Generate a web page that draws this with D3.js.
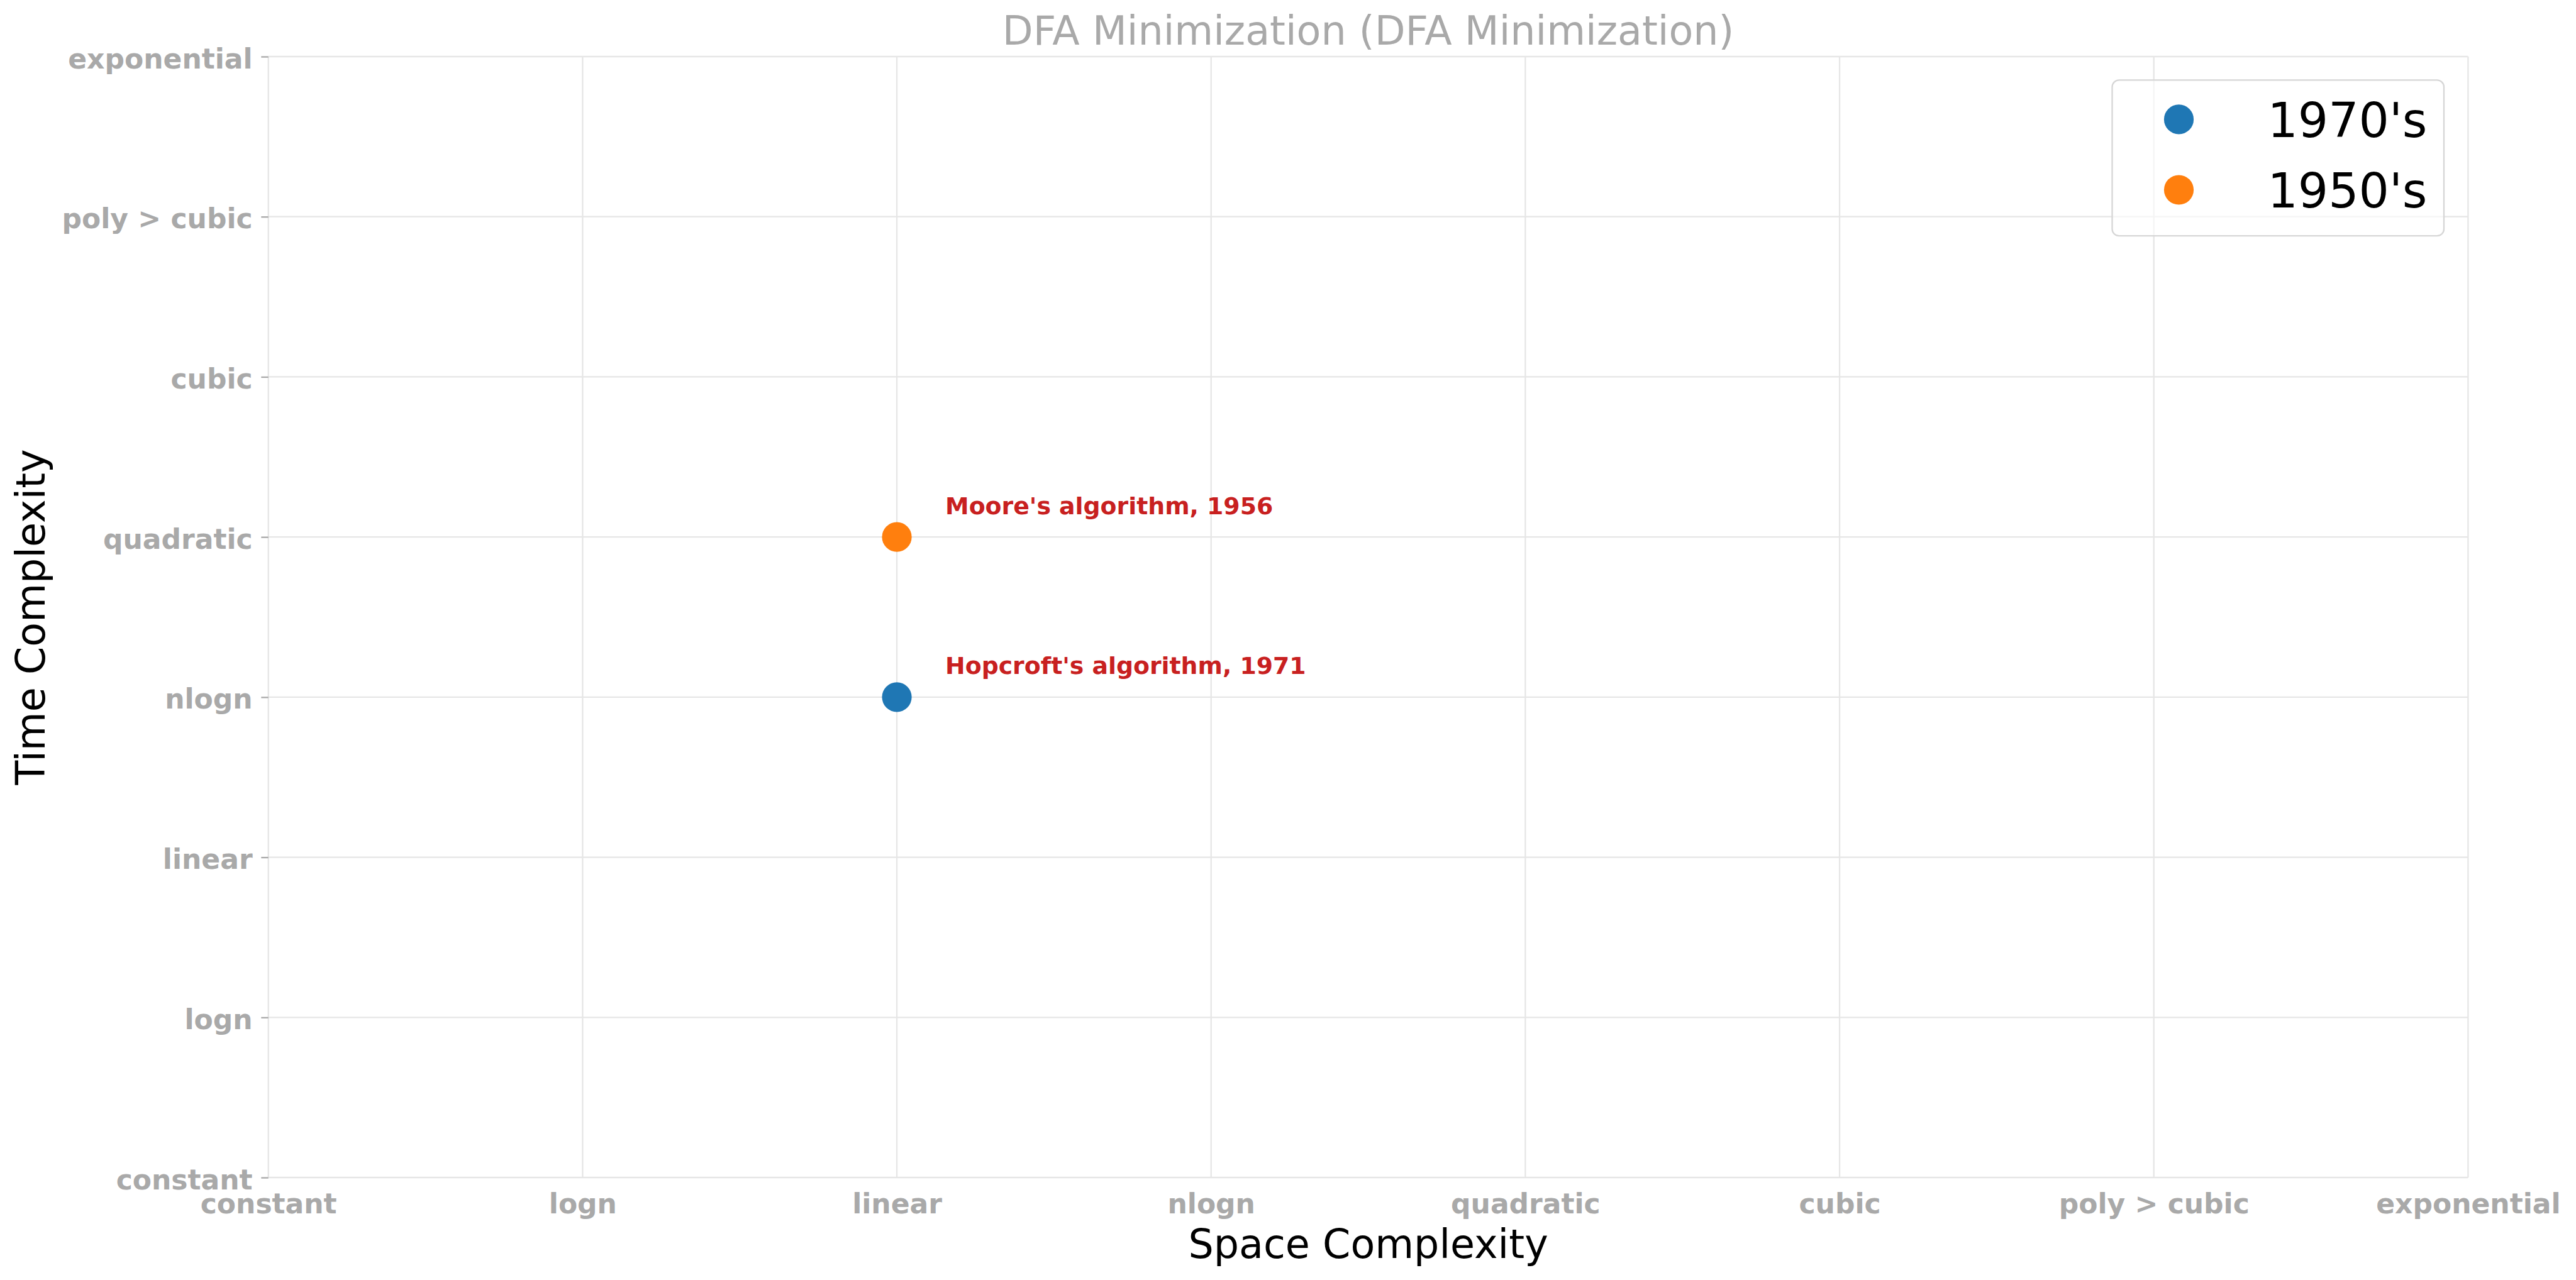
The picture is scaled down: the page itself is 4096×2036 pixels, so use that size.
<!DOCTYPE html>
<html>
<head>
<meta charset="utf-8">
<script src="https://cdn.jsdelivr.net/npm/d3@7"></script>
<style>
  html, body { margin: 0; padding: 0; background: #ffffff; }
  svg { display: block; }
</style>
</head>
<body>
<svg id="chart" width="4096" height="2036"></svg>
<script>
// ---------------- data ----------------
const categories = ["constant", "logn", "linear", "nlogn", "quadratic", "cubic", "poly > cubic", "exponential"];
const algorithmNames = ["Hopcroft's algorithm, 1971", "Moore's algorithm, 1956"];
const spaceValues = ["linear", "linear"];
const timeValues = ["nlogn", "quadratic"];
const decades = ["1970's", "1950's"];
const legendDecades = ["1970's", "1950's"];
const decadeColors = ["#1f77b4", "#ff7f0e"];
const titleText = "DFA Minimization (DFA Minimization)";
const xLabelText = "Space Complexity";
const yLabelText = "Time Complexity";

// ---------------- layout ----------------
const W = 4096, H = 2036;
const plot = { left: 426.7, right: 3924.4, top: 90.0, bottom: 1873.0 };
const FONT = "'DejaVu Sans', sans-serif";
const GRAY = "#a9a9a9";
const GRID = "#e6e6e6";

const svg = d3.select("#chart");
svg.append("rect").attr("width", W).attr("height", H).attr("fill", "#ffffff");

const x = d3.scalePoint().domain(categories).range([plot.left, plot.right]).padding(0);
const y = d3.scalePoint().domain(categories).range([plot.bottom, plot.top]).padding(0);
const color = d3.scaleOrdinal().domain(legendDecades).range(decadeColors);

// grid lines
const grid = svg.append("g").attr("class", "grid");
grid.selectAll("line.vx").data(categories).join("line")
  .attr("x1", d => x(d)).attr("x2", d => x(d))
  .attr("y1", plot.top).attr("y2", plot.bottom)
  .attr("stroke", GRID).attr("stroke-width", 2.3);
grid.selectAll("line.hy").data(categories).join("line")
  .attr("y1", d => y(d)).attr("y2", d => y(d))
  .attr("x1", plot.left).attr("x2", plot.right)
  .attr("stroke", GRID).attr("stroke-width", 2.3);

// y axis
const yAxis = svg.append("g")
  .attr("transform", `translate(${plot.left},0)`)
  .call(d3.axisLeft(y).tickSize(11.4).tickPadding(13.7));
yAxis.select(".domain").remove();
yAxis.selectAll(".tick line").attr("stroke", GRAY).attr("stroke-width", 2.3);
yAxis.selectAll(".tick text")
  .attr("fill", GRAY).attr("font-family", FONT).attr("font-weight", "bold")
  .attr("font-size", 44).attr("dy", "0.41em");

// x axis
const xAxis = svg.append("g")
  .attr("transform", `translate(0,${plot.bottom})`)
  .call(d3.axisBottom(x).tickSize(0).tickPadding(0));
xAxis.select(".domain").remove();
xAxis.selectAll(".tick line").remove();
xAxis.selectAll(".tick text")
  .attr("fill", GRAY).attr("font-family", FONT).attr("font-weight", "bold")
  .attr("font-size", 44).attr("y", 57).attr("dy", 0);

// title
svg.append("text")
  .attr("x", (plot.left + plot.right) / 2).attr("y", 70.9)
  .attr("text-anchor", "middle")
  .attr("font-family", FONT).attr("font-size", 63.5).attr("fill", GRAY)
  .text(titleText);

// axis labels
svg.append("text")
  .attr("x", (plot.left + plot.right) / 2).attr("y", 2001)
  .attr("text-anchor", "middle")
  .attr("font-family", FONT).attr("font-size", 63.5).attr("fill", "#000000")
  .text(xLabelText);
svg.append("text")
  .attr("transform", `translate(70.9,${(plot.top + plot.bottom) / 2}) rotate(-90)`)
  .attr("text-anchor", "middle")
  .attr("font-family", FONT).attr("font-size", 63.5).attr("fill", "#000000")
  .text(yLabelText);

// points
const pts = algorithmNames.map((n, i) => ({ name: n, sx: spaceValues[i], ty: timeValues[i], dec: decades[i] }));
svg.append("g").selectAll("circle").data(pts).join("circle")
  .attr("cx", d => x(d.sx)).attr("cy", d => y(d.ty))
  .attr("r", 23.6).attr("fill", d => color(d.dec));

// annotations
svg.append("g").selectAll("text").data(pts).join("text")
  .attr("x", d => x(d.sx) + 77).attr("y", d => y(d.ty) - 36.6)
  .attr("font-family", FONT).attr("font-weight", "bold").attr("font-size", 37.8)
  .attr("fill", "#c82020")
  .text(d => d.name);

// legend
const lg = svg.append("g");
lg.append("rect")
  .attr("x", 3358.5).attr("y", 127.4).attr("width", 3886 - 3358.5).attr("height", 375.2 - 127.4)
  .attr("rx", 11).attr("ry", 11)
  .attr("fill", "#ffffff").attr("fill-opacity", 0.6)
  .attr("stroke", "#d6d6d6").attr("stroke-width", 2.3);
const items = lg.selectAll("g.item").data(legendDecades).join("g")
  .attr("transform", (d, i) => `translate(0,${[189.9, 302][i]})`);
items.append("circle").attr("cx", 3464.5).attr("cy", 0).attr("r", 23.6)
  .attr("fill", d => color(d));
items.append("text").attr("x", 3605.5).attr("y", 27.6)
  .attr("font-family", FONT).attr("font-size", 76).attr("fill", "#000000")
  .text(d => d);
</script>
</body>
</html>
